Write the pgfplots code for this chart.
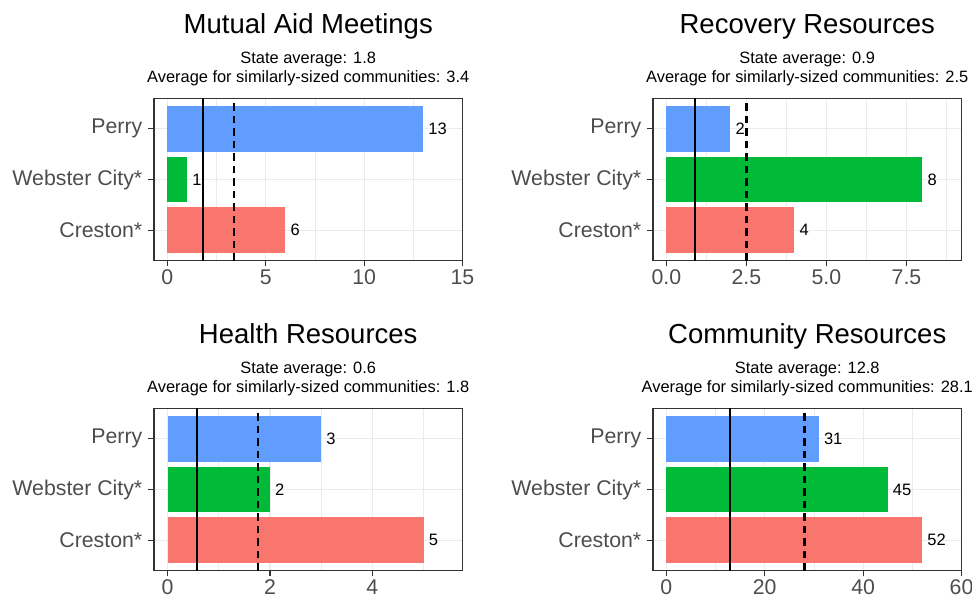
\documentclass[border=0pt]{standalone}
\usepackage{pgfplots}
\pgfplotsset{compat=1.18}
\usepackage{fontspec}
\setmainfont{Liberation Sans}
\definecolor{grey20}{HTML}{333333}
\definecolor{grey30}{HTML}{4D4D4D}
\definecolor{grey92}{HTML}{EBEBEB}
\definecolor{ggred}{HTML}{F8766D}
\definecolor{gggreen}{HTML}{00BA38}
\definecolor{ggblue}{HTML}{619CFF}
\pgfplotsset{
  panel/.style={
    scale only axis, width=308.5pt, height=162.4pt,
    anchor=south west, clip=false,
    ymin=0.4, ymax=3.6,
    ytick={1,2,3}, yticklabels={Creston*, Webster City*, Perry},
    xmajorgrids, xminorgrids, ymajorgrids,
    major grid style={color=grey92, line width=1.1pt},
    minor grid style={color=grey92, line width=0.55pt},
    axis line style={color=grey20, line width=1.1pt},
    tick align=outside, tick pos=left,
    major tick length=5.7pt, minor tick length=0pt,
    tick style={color=grey20, line width=1.1pt},
    ticklabel style={font=\fontsize{21.3}{25}\selectfont, text=grey30},
    yticklabel style={xshift=-2.5pt},
    /pgf/number format/assume math mode=true,
  },
  bar/.style={xbar, bar shift=0pt, bar width=0.9, draw=none, fill=#1,
    nodes near coords, nodes near coords style={anchor=west, inner sep=0pt, xshift=5pt, text=black, font=\fontsize{16.5}{20}\selectfont}},
  avgline/.style={black, line width=1.7pt},
  simline/.style={black, line width=2.3pt, dash pattern=on 7.5pt off 5pt},
}
\newcommand{\paneltitle}[3]{%
  \node[anchor=base, font=\fontsize{27.5}{32}\selectfont] at (rel axis cs:0.5,1) [yshift=64.8pt] {#1};
  \node[anchor=base, font=\fontsize{16.4}{20}\selectfont] at (rel axis cs:0.5,1) [yshift=34.3pt] {State average: #2};
  \node[anchor=base, font=\fontsize{16.4}{20}\selectfont] at (rel axis cs:0.5,1) [yshift=15.6pt] {Average for similarly-sized communities: #3};
}
\begin{document}
\begin{tikzpicture}
\useasboundingbox (0,0) rectangle (972pt,599pt);
% Panel 1
\begin{axis}[panel, at={(154pt,338.3pt)},
  xmin=-0.68, xmax=15, xtick={0,5,10,15}, minor xtick={2.5,7.5,12.5}]
  \addplot[bar=ggred] coordinates {(6,1)};
  \addplot[bar=gggreen] coordinates {(1,2)};
  \addplot[bar=ggblue] coordinates {(13,3)};
  \addplot[avgline] coordinates {(1.8,0.4) (1.8,3.6)};
  \addplot[simline] coordinates {(3.4,0.4) (3.4,3.6)};
  \paneltitle{Mutual Aid Meetings}{1.8}{3.4}
\end{axis}
% Panel 2
\begin{axis}[panel, at={(653pt,338.3pt)},
  xmin=-0.42, xmax=9.22, xtick={0,2.5,5,7.5}, minor xtick={1.25,3.75,6.25,8.75},
  xticklabel style={/pgf/number format/.cd, fixed, fixed zerofill, precision=1}]
  \addplot[bar=ggred] coordinates {(4,1)};
  \addplot[bar=gggreen] coordinates {(8,2)};
  \addplot[bar=ggblue] coordinates {(2,3)};
  \addplot[avgline] coordinates {(0.9,0.4) (0.9,3.6)};
  \addplot[simline] coordinates {(2.5,0.4) (2.5,3.6)};
  \paneltitle{Recovery Resources}{0.9}{2.5}
\end{axis}
% Panel 3
\begin{axis}[panel, at={(154pt,28.3pt)},
  xmin=-0.265, xmax=5.76, xtick={0,2,4}, minor xtick={1,3,5}]
  \addplot[bar=ggred] coordinates {(5,1)};
  \addplot[bar=gggreen] coordinates {(2,2)};
  \addplot[bar=ggblue] coordinates {(3,3)};
  \addplot[avgline] coordinates {(0.57,0.4) (0.57,3.6)};
  \addplot[simline] coordinates {(1.77,0.4) (1.77,3.6)};
  \paneltitle{Health Resources}{0.6}{1.8}
\end{axis}
% Panel 4
\begin{axis}[panel, at={(653pt,28.3pt)},
  xmin=-2.7, xmax=60, xtick={0,20,40,60}, minor xtick={10,30,50}]
  \addplot[bar=ggred] coordinates {(52,1)};
  \addplot[bar=gggreen] coordinates {(45,2)};
  \addplot[bar=ggblue] coordinates {(31,3)};
  \addplot[avgline] coordinates {(12.9,0.4) (12.9,3.6)};
  \addplot[simline] coordinates {(28.1,0.4) (28.1,3.6)};
  \paneltitle{Community Resources}{12.8}{28.1}
\end{axis}
\end{tikzpicture}
\end{document}
